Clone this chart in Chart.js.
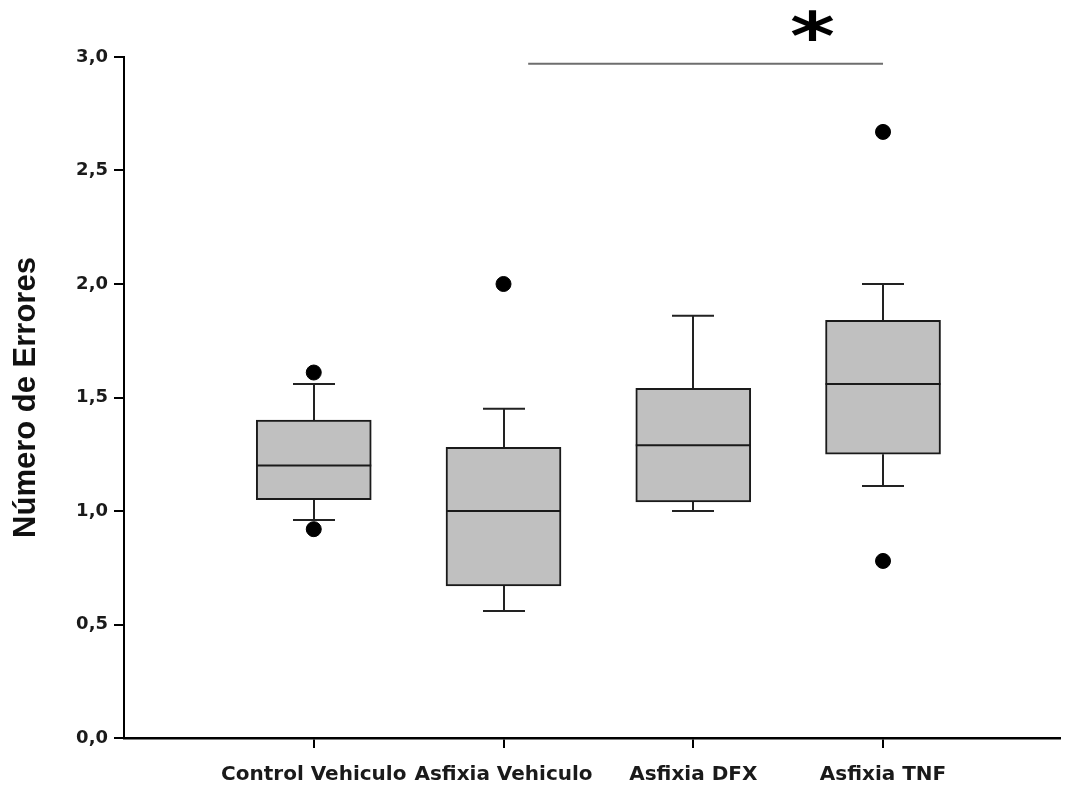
<!DOCTYPE html>
<html>
<head>
<meta charset="utf-8">
<title>Número de Errores</title>
<script src="https://cdn.jsdelivr.net/npm/chart.js@4.4.1/dist/chart.umd.min.js"></script>
<style>
  html, body { margin: 0; padding: 0; background: #ffffff; }
  canvas { display: block; }
</style>
</head>
<body>
<canvas id="chart" width="1068" height="786"></canvas>
<script>
// Groups and box-plot statistics
const groups = ['Control Vehiculo', 'Asfixia Vehiculo', 'Asfixia DFX', 'Asfixia TNF'];
const whiskerLow  = [0.96, 0.56, 1.00, 1.11];
const quartile1   = [1.05, 0.67, 1.04, 1.25];
const median      = [1.20, 1.00, 1.29, 1.56];
const quartile3   = [1.40, 1.28, 1.54, 1.84];
const whiskerHigh = [1.56, 1.45, 1.86, 2.00];
const outliers    = [[0.92, 1.61], [2.00], [], [0.78, 2.67]];

// Axis ticks
const yTicks = [0, 0.5, 1.0, 1.5, 2.0, 2.5, 3.0];

// Significance bar between groups
const sigFrom = 2.13;
const sigTo = 4.0;
const sigLevel = 2.97;
const sigMark = '*';
const sigMarkX = 3.63;
const sigMarkY = 3.14;

const BOX_WIDTH = 115;
const CAP_WIDTH = 42;
const MARK_W = 43;   // asterisk glyph box, px
const MARK_H = 31;

const boxData = groups.map((g, i) => ({ x: i + 1, y: [quartile1[i], quartile3[i]] }));
const outlierData = [];
outliers.forEach((vals, i) => vals.forEach(v => outlierData.push({ x: i + 1, y: v })));

const boxPlotParts = {
  id: 'boxPlotParts',
  beforeDatasetsDraw(chart) {
    const { ctx, scales: { x, y } } = chart;
    ctx.save();
    ctx.strokeStyle = '#222222';
    ctx.lineWidth = 2;
    groups.forEach((g, i) => {
      const cx = Math.round(x.getPixelForValue(i + 1));
      const yLo = y.getPixelForValue(whiskerLow[i]);
      const yQ1 = y.getPixelForValue(quartile1[i]);
      const yQ3 = y.getPixelForValue(quartile3[i]);
      const yHi = y.getPixelForValue(whiskerHigh[i]);
      ctx.beginPath();
      ctx.moveTo(cx, yQ1); ctx.lineTo(cx, yLo);
      ctx.moveTo(cx - CAP_WIDTH / 2, yLo); ctx.lineTo(cx + CAP_WIDTH / 2, yLo);
      ctx.moveTo(cx, yQ3); ctx.lineTo(cx, yHi);
      ctx.moveTo(cx - CAP_WIDTH / 2, yHi); ctx.lineTo(cx + CAP_WIDTH / 2, yHi);
      ctx.stroke();
    });
    ctx.restore();
  },
  afterDatasetsDraw(chart) {
    const { ctx, scales: { x, y } } = chart;
    ctx.save();
    ctx.strokeStyle = '#1a1a1a';
    ctx.lineWidth = 2;
    groups.forEach((g, i) => {
      const cx = x.getPixelForValue(i + 1);
      const ym = y.getPixelForValue(median[i]);
      ctx.beginPath();
      ctx.moveTo(cx - BOX_WIDTH / 2, ym);
      ctx.lineTo(cx + BOX_WIDTH / 2, ym);
      ctx.stroke();
    });
    ctx.restore();
  },
  afterDraw(chart) {
    const { ctx, scales: { x, y } } = chart;
    ctx.save();
    // significance line
    ctx.strokeStyle = '#6e6e6e';
    ctx.lineWidth = 2;
    const ly = y.getPixelForValue(sigLevel);
    ctx.beginPath();
    ctx.moveTo(x.getPixelForValue(sigFrom), ly);
    ctx.lineTo(x.getPixelForValue(sigTo), ly);
    ctx.stroke();
    // asterisk, fitted to a squat glyph box and centred on it
    ctx.fillStyle = '#000000';
    ctx.textAlign = 'left';
    ctx.textBaseline = 'alphabetic';
    ctx.font = 'bold 100px "DejaVu Sans"';
    const m0 = ctx.measureText(sigMark);
    const h0 = m0.actualBoundingBoxAscent + m0.actualBoundingBoxDescent;
    const size = Math.round(100 * MARK_H / h0);
    ctx.font = 'bold ' + size + 'px "DejaVu Sans"';
    const m = ctx.measureText(sigMark);
    const gw = m.actualBoundingBoxLeft + m.actualBoundingBoxRight;
    const gh = m.actualBoundingBoxAscent + m.actualBoundingBoxDescent;
    const sx = MARK_W / gw;
    const px = x.getPixelForValue(sigMarkX);
    const py = y.getPixelForValue(sigMarkY);
    ctx.translate(px, py);
    ctx.scale(sx, 1);
    ctx.fillText(sigMark,
      -gw / 2 + m.actualBoundingBoxLeft,
      gh / 2 - m.actualBoundingBoxDescent);
    ctx.restore();
  }
};

const formatComma = v => Number(v).toFixed(1).replace('.', ',');

new Chart(document.getElementById('chart'), {
  type: 'bar',
  data: {
    datasets: [
      {
        type: 'bar',
        data: boxData,
        backgroundColor: '#c0c0c0',
        borderColor: '#1a1a1a',
        borderWidth: 2,
        borderSkipped: false,
        barThickness: BOX_WIDTH,
        order: 2
      },
      {
        type: 'scatter',
        data: outlierData,
        backgroundColor: '#000000',
        borderColor: '#000000',
        pointRadius: 7.5,
        pointHoverRadius: 7.5,
        showLine: false,
        order: 1
      }
    ]
  },
  options: {
    responsive: false,
    devicePixelRatio: 1,
    animation: false,
    events: [],
    layout: { padding: { top: 57, right: 0, bottom: 0, left: 0 } },
    plugins: {
      legend: { display: false },
      tooltip: { enabled: false }
    },
    scales: {
      x: {
        type: 'linear',
        min: 0,
        max: 4.93,
        offset: false,
        afterFit(scale) {
          scale.height = 48;
          scale.paddingLeft = 0;
          scale.paddingRight = 0;
        },
        afterBuildTicks(scale) { scale.ticks = groups.map((g, i) => ({ value: i + 1 })); },
        grid: {
          display: true,
          offset: false,
          drawOnChartArea: false,
          drawTicks: true,
          tickLength: 10,
          color: '#000000',
          lineWidth: 2
        },
        border: { display: true, color: '#000000', width: 2.5 },
        ticks: {
          padding: 15,
          color: '#1a1a1a',
          maxRotation: 0,
          autoSkip: false,
          font: { family: '"DejaVu Sans"', size: 20, weight: 'bold' },
          callback: v => groups[v - 1] ?? ''
        }
      },
      y: {
        type: 'linear',
        min: 0,
        max: 3,
        afterFit(scale) { scale.width = 124; },
        afterBuildTicks(scale) { scale.ticks = yTicks.map(v => ({ value: v })); },
        grid: {
          display: true,
          drawOnChartArea: false,
          drawTicks: true,
          tickLength: 10,
          color: '#000000',
          lineWidth: 2
        },
        border: { display: true, color: '#000000', width: 2 },
        ticks: {
          padding: 6,
          color: '#1a1a1a',
          font: { family: '"DejaVu Sans"', size: 18, weight: 'bold' },
          callback: v => formatComma(v)
        },
        title: {
          display: true,
          text: 'Número de Errores',
          color: '#111111',
          padding: { top: 8, bottom: 0 },
          font: { family: '"Liberation Sans"', size: 31, weight: 'bold' }
        }
      }
    }
  },
  plugins: [boxPlotParts]
});
</script>
</body>
</html>
